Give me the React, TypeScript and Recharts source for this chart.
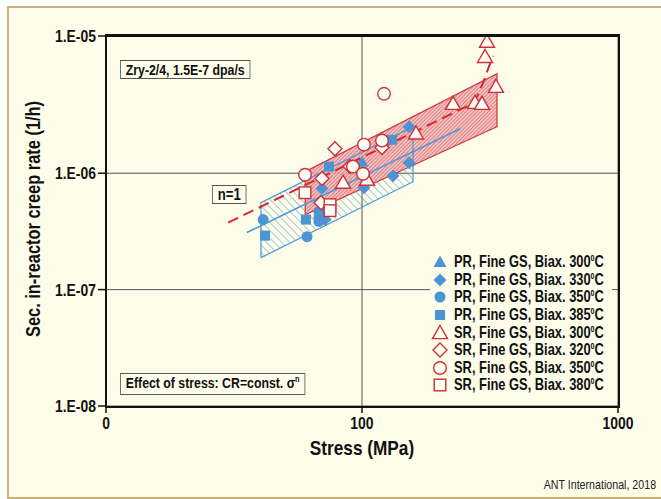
import {
  Area,
  CartesianGrid,
  ComposedChart,
  Line,
  Scatter,
  XAxis,
  YAxis,
} from "recharts";

const FONT = "'Liberation Sans', Arial, sans-serif";
const NARROW = 0.82; // Arial Narrow look, squeezed from Liberation Sans
const BLUE = "#4d94d3";
const RED = "#cd3039";

// axes
const X_TICKS = [10, 100, 1000];
const X_TICK_LABELS = ["0", "100", "1000"];
const Y_TOP = 1.51e-5;
const Y_TICKS = [1e-8, 1e-7, 1e-6, Y_TOP];
const Y_TICK_LABELS = ["1.E-08", "1.E-07", "1.E-06", "1.E-05"];

// PR = filled (blue), SR = hollow (red); x = stress MPa, y = creep rate 1/h
const pr300 = [{ x: 100, y: 1.25e-6 }];
const pr330 = [
  { x: 152.6, y: 2.51e-6 },
  { x: 152.6, y: 1.23e-6 },
  { x: 132.2, y: 9.5e-7 },
  { x: 101.8, y: 7.5e-7 },
  { x: 69.8, y: 7.4e-7 },
  { x: 71.7, y: 4.0e-7 },
];
const pr350 = [
  { x: 41.1, y: 4.0e-7 },
  { x: 61, y: 2.85e-7 },
  { x: 67.9, y: 4.67e-7 },
  { x: 67.9, y: 4.2e-7 },
  { x: 67.9, y: 3.85e-7 },
];
const pr385 = [
  { x: 41.8, y: 2.91e-7 },
  { x: 60.4, y: 4.0e-7 },
  { x: 74.3, y: 1.14e-6 },
  { x: 131, y: 1.94e-6 },
];
const sr300 = [
  { x: 307.9, y: 1.35e-5 },
  { x: 302.4, y: 1.0e-5 },
  { x: 333.8, y: 5.53e-6 },
  { x: 226.8, y: 3.95e-6 },
  { x: 276.3, y: 4.03e-6 },
  { x: 294.3, y: 3.95e-6 },
  { x: 162.5, y: 2.2e-6 },
  { x: 84.3, y: 8.3e-7 },
  { x: 104.6, y: 8.8e-7 },
];
const sr320 = [
  { x: 78.4, y: 1.62e-6 },
  { x: 69.8, y: 9.0e-7 },
  { x: 69.2, y: 5.58e-7 },
  { x: 89.8, y: 1.14e-6 },
  { x: 119.7, y: 1.66e-6 },
];
const sr350 = [
  { x: 121.9, y: 4.81e-6 },
  { x: 101.8, y: 1.76e-6 },
  { x: 119.7, y: 1.91e-6 },
  { x: 59.9, y: 9.7e-7 },
  { x: 92.2, y: 1.14e-6 },
  { x: 100.9, y: 9.9e-7 },
];
const sr380 = [
  { x: 59.9, y: 6.8e-7 },
  { x: 75, y: 5.37e-7 },
  { x: 75, y: 4.77e-7 },
];

// scatter bands (parallelograms) and trend lines
const blueBand = [
  { x: 40.3, range: [1.88e-7, 5.58e-7] },
  { x: 158.2, range: [8.45e-7, 2.51e-6] },
];
const blueBandEdge = [
  { x: 40.3, y: 1.88e-7 },
  { x: 40.3, y: 5.58e-7 },
  { x: 158.2, y: 2.51e-6 },
  { x: 158.2, y: 8.45e-7 },
  { x: 40.3, y: 1.88e-7 },
];
const redBand = [
  { x: 60, range: [4.4e-7, 1.03e-6] },
  { x: 336.8, range: [2.51e-6, 7.15e-6] },
];
const redBandEdge = [
  { x: 60, y: 4.4e-7 },
  { x: 60, y: 1.03e-6 },
  { x: 336.8, y: 7.15e-6 },
  { x: 336.8, y: 2.51e-6 },
  { x: 60, y: 4.4e-7 },
];
const blueFit = [
  { x: 35.5, y: 3.09e-7 },
  { x: 241.5, y: 2.41e-6 },
];
const redFit = [
  { x: 30, y: 3.76e-7 },
  { x: 264.1, y: 3.87e-6 },
  { x: 281.3, y: 4.54e-6 },
  { x: 297, y: 5.98e-6 },
  { x: 307.9, y: 7.43e-6 },
  { x: 324.9, y: 1.02e-5 },
];

type Kind = "tri" | "dia" | "cir" | "sq";

function Marker({ kind, cx, cy, filled }: { kind: Kind; cx: number; cy: number; filled: boolean }) {
  const color = filled ? BLUE : RED;
  const fill = filled ? BLUE : "#fffff6";
  const sw = filled ? 0 : 1.4;
  if (kind === "cir") return <circle cx={cx} cy={cy} r={filled ? 5.5 : 6.3} fill={fill} stroke={color} strokeWidth={sw} />;
  if (kind === "sq") {
    const h = filled ? 5 : 5.8;
    return <rect x={cx - h} y={cy - h} width={h * 2} height={h * 2} fill={fill} stroke={color} strokeWidth={sw} />;
  }
  if (kind === "dia") {
    const h = filled ? 6.5 : 7;
    return <polygon points={`${cx},${cy - h} ${cx + h},${cy} ${cx},${cy + h} ${cx - h},${cy}`} fill={fill} stroke={color} strokeWidth={sw} />;
  }
  const w = filled ? 6.5 : 7.5;
  return <polygon points={`${cx},${cy - w} ${cx + w},${cy + w * 0.75} ${cx - w},${cy + w * 0.75}`} fill={fill} stroke={color} strokeWidth={sw} />;
}

const shape = (kind: Kind, filled: boolean) => (p: any) => <Marker kind={kind} cx={p.cx} cy={p.cy} filled={filled} />;

const SERIES: { name: string; temp: string; kind: Kind; filled: boolean; data: { x: number; y: number }[] }[] = [
  { name: "PR, Fine GS, Biax. ", temp: "300", kind: "tri", filled: true, data: pr300 },
  { name: "PR, Fine GS, Biax. ", temp: "330", kind: "dia", filled: true, data: pr330 },
  { name: "PR, Fine GS, Biax. ", temp: "350", kind: "cir", filled: true, data: pr350 },
  { name: "PR, Fine GS, Biax. ", temp: "385", kind: "sq", filled: true, data: pr385 },
  { name: "SR, Fine GS, Biax. ", temp: "300", kind: "tri", filled: false, data: sr300 },
  { name: "SR, Fine GS, Biax. ", temp: "320", kind: "dia", filled: false, data: sr320 },
  { name: "SR, Fine GS, Biax. ", temp: "350", kind: "cir", filled: false, data: sr350 },
  { name: "SR, Fine GS, Biax. ", temp: "380", kind: "sq", filled: false, data: sr380 },
];

function XTick(p: any) {
  const label = X_TICK_LABELS[X_TICKS.indexOf(p.payload.value)] ?? "";
  return (
    <text
      x={p.x}
      y={p.y}
      dy={13}
      textAnchor="middle"
      transform={`translate(${p.x} 0) scale(${NARROW} 1) translate(${-p.x} 0)`}
      fill="#111"
      fontSize={17}
      fontWeight={700}
      fontFamily={FONT}
    >
      {label}
    </text>
  );
}

function YTick(p: any) {
  const label = Y_TICK_LABELS[Y_TICKS.indexOf(p.payload.value)] ?? "";
  return (
    <text
      x={p.x}
      y={p.y}
      dy={6}
      textAnchor="end"
      transform={`translate(${p.x} 0) scale(${NARROW} 1) translate(${-p.x} 0)`}
      fill="#111"
      fontSize={17}
      fontWeight={700}
      fontFamily={FONT}
    >
      {label}
    </text>
  );
}

const boxStyle: React.CSSProperties = {
  position: "absolute",
  border: "1.5px solid #555",
  background: "#fdfde9",
  fontWeight: 700,
  fontSize: 15,
  lineHeight: "17px",
  padding: "0 6px",
  color: "#111",
  whiteSpace: "nowrap",
  transform: `scaleX(${NARROW})`,
  transformOrigin: "left center",
};

export default function App() {
  return (
    <div style={{ position: "relative", width: 661, height: 499, background: "#fff", fontFamily: FONT, overflow: "hidden" }}>
      <style>{"body{margin:0}"}</style>
      <div style={{ position: "absolute", left: 7, top: 6, width: 660, height: 489, border: "2px solid #c9b27d", background: "#fdfde9" }} />
      <div style={{ position: "absolute", left: 0, top: 0 }}>
        <ComposedChart width={661} height={499} margin={{ top: 36, right: 43, bottom: 63, left: 46 }}>
          <defs>
            <pattern id="blueHatch" patternUnits="userSpaceOnUse" width="5.5" height="5.5" patternTransform="rotate(-45)">
              <line x1="0" y1="0" x2="0" y2="5.5" stroke={BLUE} strokeWidth="1" />
            </pattern>
            <pattern id="redHatch" patternUnits="userSpaceOnUse" width="2.6" height="2.6" patternTransform="rotate(45)">
              <rect width="2.6" height="2.6" fill="#f1bcbc" />
              <line x1="0" y1="0" x2="0" y2="2.6" stroke="#d6404a" strokeWidth="1.1" />
            </pattern>
          </defs>
          <CartesianGrid stroke="#555" strokeWidth={1} />
          <XAxis
            dataKey="x"
            type="number"
            scale="log"
            domain={[10, 1000]}
            ticks={X_TICKS}
            allowDataOverflow
            tick={<XTick />}
            tickSize={7}
            tickMargin={3}
            axisLine={false}
            tickLine={{ stroke: "#111", strokeWidth: 1.5 }}
            height={30}
          />
          <YAxis
            dataKey="y"
            type="number"
            scale="log"
            domain={[1e-8, Y_TOP]}
            ticks={Y_TICKS}
            allowDataOverflow
            tick={<YTick />}
            tickSize={8}
            tickMargin={2}
            axisLine={false}
            tickLine={{ stroke: "#111", strokeWidth: 1.5 }}
            width={60}
          />
          <Area data={blueBand} dataKey="range" type="linear" stroke="none" fill="url(#blueHatch)" fillOpacity={1} isAnimationActive={false} dot={false} activeDot={false} />
          <Area data={redBand} dataKey="range" type="linear" stroke="none" fill="url(#redHatch)" fillOpacity={0.9} isAnimationActive={false} dot={false} activeDot={false} />
          <Line data={blueBandEdge} dataKey="y" type="linear" stroke={BLUE} strokeWidth={1.2} dot={false} activeDot={false} isAnimationActive={false} />
          <Line data={redBandEdge} dataKey="y" type="linear" stroke={RED} strokeWidth={1.2} dot={false} activeDot={false} isAnimationActive={false} />
          <Line data={blueFit} dataKey="y" type="linear" stroke="#4d9ad8" strokeWidth={1.6} dot={false} activeDot={false} isAnimationActive={false} />
          <Line data={redFit} dataKey="y" type="linear" stroke="#d02a30" strokeWidth={2} strokeDasharray="11 6" dot={false} activeDot={false} isAnimationActive={false} />
          {SERIES.map((s, i) => (
            <Scatter key={i} data={s.data} shape={shape(s.kind, s.filled)} isAnimationActive={false} />
          ))}
        </ComposedChart>
      </div>

      {/* plot frame */}
      <div style={{ position: "absolute", left: 105, top: 34, width: 515, height: 374, borderTop: "3px solid #111", borderLeft: "2.5px solid #111", borderRight: "2.5px solid #111", borderBottom: "2.5px solid #111", boxSizing: "border-box", pointerEvents: "none" }} />

      {/* axis titles */}
      <div style={{ position: "absolute", left: 262, top: 436, width: 200, textAlign: "center", fontSize: 21, fontWeight: 700, color: "#111", transform: `scaleX(${NARROW})` }}>Stress (MPa)</div>
      <div style={{ position: "absolute", left: 33, top: 219, transform: `translate(-50%, -50%) rotate(-90deg) scaleX(${NARROW})`, fontSize: 20, fontWeight: 700, color: "#111", whiteSpace: "nowrap" }}>
        Sec. in-reactor creep rate (1/h)
      </div>

      {/* annotations */}
      <div style={{ ...boxStyle, left: 120, top: 60 }}>Zry-2/4, 1.5E-7 dpa/s</div>
      <div style={{ ...boxStyle, left: 212, top: 185, fontSize: 16 }}>n=1</div>
      <div style={{ ...boxStyle, left: 120, top: 373 }}>
        Effect of stress: CR=const. σ<span style={{ fontSize: 9, position: "relative", top: -6 }}>n</span>
      </div>

      {/* legend */}
      <div style={{ position: "absolute", left: 430, top: 251, width: 182, background: "#fdfde9", padding: "2px 0" }}>
        {SERIES.map((s, i) => (
          <div key={i} style={{ display: "flex", alignItems: "center", height: 17.6, whiteSpace: "nowrap" }}>
            <svg width={22} height={17} style={{ flex: "none" }}>
              <Marker kind={s.kind} cx={10} cy={9} filled={s.filled} />
            </svg>
            <span style={{ marginLeft: 2, fontSize: 16.5, fontWeight: 700, color: "#111", display: "inline-block", transform: "scaleX(0.78)", transformOrigin: "left center" }}>
              {s.name}
              {s.temp}
              <span style={{ fontSize: 9, position: "relative", top: -6 }}>0</span>C
            </span>
          </div>
        ))}
      </div>

      <div style={{ position: "absolute", right: 5, top: 477, fontSize: 13, color: "#222", transform: `scaleX(${NARROW})`, transformOrigin: "right center" }}>ANT International, 2018</div>
    </div>
  );
}
